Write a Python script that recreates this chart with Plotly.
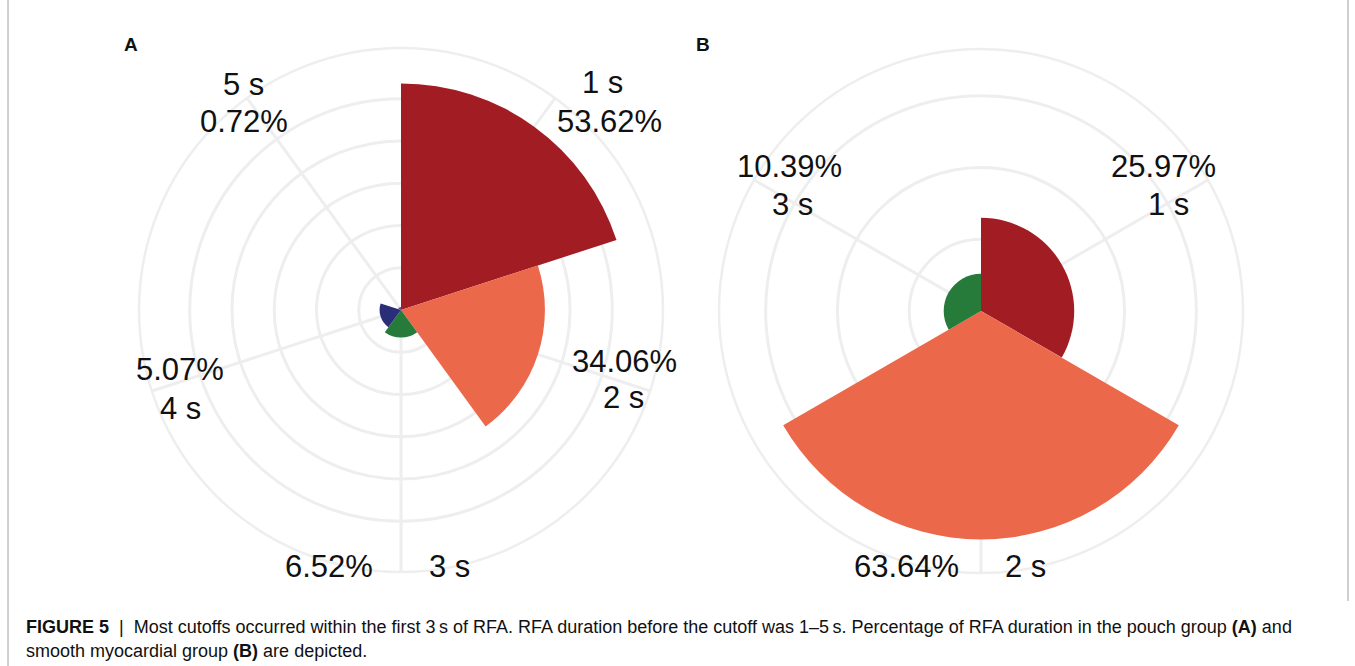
import plotly.graph_objects as go

# ---------------- data ----------------
A_CATS = ["1 s", "2 s", "3 s", "4 s", "5 s"]
A_VALUES = [53.62, 34.06, 6.52, 5.07, 0.72]
A_PCT_TEXT = ["53.62%", "34.06%", "6.52%", "5.07%", "0.72%"]

B_CATS = ["1 s", "2 s", "3 s"]
B_VALUES = [25.97, 63.64, 10.39]
B_PCT_TEXT = ["25.97%", "63.64%", "10.39%"]

A_RINGS = [10, 20, 30, 40, 50]
B_RINGS = [20, 40, 60]

CAPTION_1 = ("<b>FIGURE 5</b>  |  Most cutoffs occurred within the first 3\u2009s of RFA. "
             "RFA duration before the cutoff was 1\u20135\u2009s. Percentage of RFA duration "
             "in the pouch group <b>(A)</b> and")
CAPTION_2 = "smooth myocardial group <b>(B)</b> are depicted."

# ---------------- styles / layout ----------------
W, H = 1355, 666
COLORS_A = ["#A21C24", "#EC684B", "#267A3A", "#2A2D78", "#6A4A8C"]
COLORS_B = ["#A21C24", "#EC684B", "#267A3A"]
GRID = "#EEEEEE"
FONT = "Liberation Sans, Arial, Helvetica, sans-serif"

# label positions in pixels (category label, percentage label)
A_LABEL_POS = [((602, 82), (609, 121)),
               ((623, 397), (624, 361)),
               ((449, 566), (329, 566)),
               ((180, 408), (180, 369)),
               ((243, 85), (244, 122))]
B_LABEL_POS = [((1168, 204), (1163, 167)),
               ((1025, 566), (906, 566)),
               ((793, 204), (789, 167))]


def px2paper(x, y):
    return x / W, 1 - y / H


def domain(cx, cy, r):
    return dict(x=[(cx - r) / W, (cx + r) / W], y=[1 - (cy + r) / H, 1 - (cy - r) / H])


fig = go.Figure()
fig.add_trace(go.Barpolar(r=A_VALUES, theta=A_CATS, marker_color=COLORS_A,
                          marker_line_width=0, subplot="polar", showlegend=False))
fig.add_trace(go.Barpolar(r=B_VALUES, theta=B_CATS, marker_color=COLORS_B,
                          marker_line_width=0, subplot="polar2", showlegend=False))


def polar_layout(dom, rmax, rings, cats, rotation):
    return dict(
        domain=dom, bargap=0, bgcolor="white",
        radialaxis=dict(range=[0, rmax], tickvals=rings, showticklabels=False, ticks="",
                        showline=False, gridcolor=GRID, gridwidth=2.5, layer="below traces"),
        angularaxis=dict(type="category", categoryarray=cats, direction="clockwise",
                         rotation=rotation, showticklabels=False, ticks="", showline=True,
                         linecolor=GRID, linewidth=2.5, gridcolor=GRID, gridwidth=2.5,
                         layer="below traces"),
    )


annotations = []
for cats, pcts, positions in ((A_CATS, A_PCT_TEXT, A_LABEL_POS),
                              (B_CATS, B_PCT_TEXT, B_LABEL_POS)):
    for cat, pct, (p_cat, p_pct) in zip(cats, pcts, positions):
        for txt, (x, y) in ((cat, p_cat), (pct, p_pct)):
            px, py = px2paper(x, y)
            annotations.append(dict(text=txt, x=px, y=py, xref="paper", yref="paper",
                                    xanchor="center", yanchor="middle", showarrow=False,
                                    font=dict(family=FONT, size=31, color="#111111")))

for letter, (x, y) in (("A", (131, 45)), ("B", (703, 45))):
    px, py = px2paper(x, y)
    annotations.append(dict(text="<b>%s</b>" % letter, x=px, y=py, xref="paper", yref="paper",
                            xanchor="center", yanchor="middle", showarrow=False,
                            font=dict(family=FONT, size=19, color="#111111")))

for txt, y in ((CAPTION_1, 627), (CAPTION_2, 651)):
    px, py = px2paper(24, y)
    annotations.append(dict(text=txt, x=px, y=py, xref="paper", yref="paper",
                            xanchor="left", yanchor="middle", showarrow=False,
                            font=dict(family=FONT, size=18, color="#111111")))

shapes = [
    dict(type="line", xref="paper", yref="paper", x0=8 / W, x1=8 / W, y0=0, y1=1,
         line=dict(color="#A0A0A0", width=1)),
    dict(type="line", xref="paper", yref="paper", x0=1348 / W, x1=1348 / W,
         y0=1 - 601 / H, y1=1, line=dict(color="#A0A0A0", width=1)),
]

fig.update_layout(
    width=W, height=H, margin=dict(l=0, r=0, t=0, b=0),
    paper_bgcolor="white", plot_bgcolor="white",
    polar=polar_layout(domain(401, 310, 262), 62, A_RINGS, A_CATS, 54),
    polar2=polar_layout(domain(981, 311, 262), 73, B_RINGS, B_CATS, 30),
    annotations=annotations, shapes=shapes,
)

fig.write_html("out.html", config={"displayModeBar": False},
               post_script="document.body.style.margin='0';document.body.style.overflow='hidden';")
